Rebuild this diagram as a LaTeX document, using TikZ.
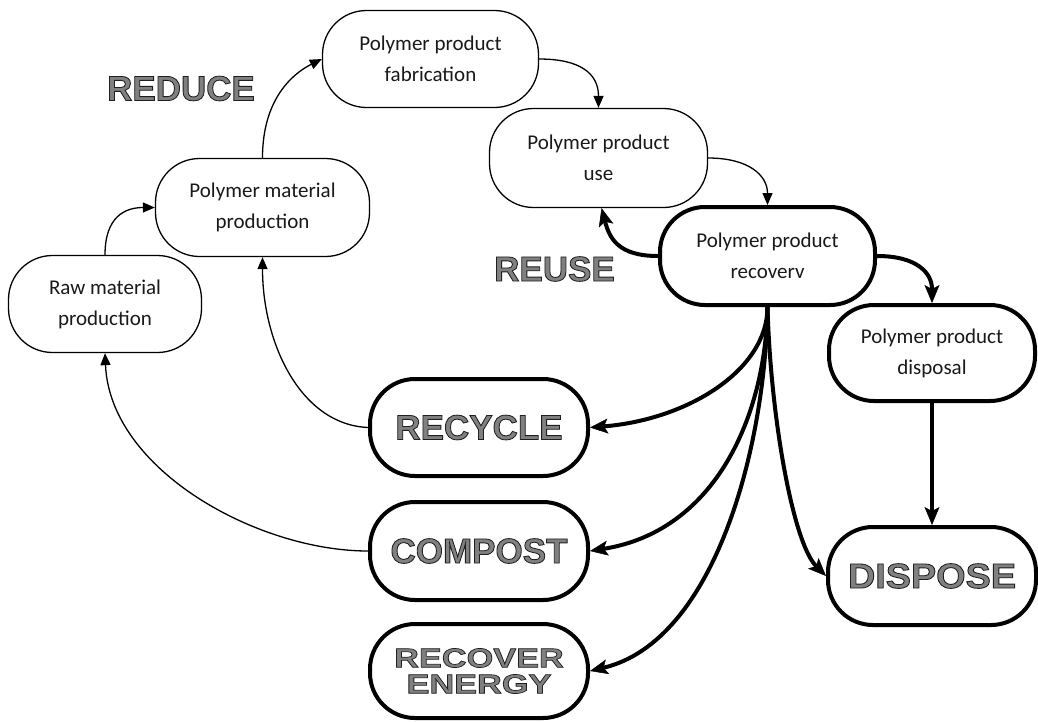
\documentclass[tikz,border=0pt]{standalone}
\usepackage{fontspec}
\usepackage{graphicx}
\setmainfont{Carlito}
\newfontface\capsfont[FakeBold=2.4]{Liberation Sans Bold}
\usetikzlibrary{arrows.meta}
% dark stroke around the filled capital letters
\newcommand\darkrim{\special{pdf:literal direct 0.12 G}}
\newcommand\capstext[1]{\darkrim#1}
\tikzset{
  stagebox/.style={draw, line width=1.3pt, rounded corners=44pt, inner sep=0pt,
    align=center, text=black!90, font=\fontsize{21}{31}\selectfont},
  routebox/.style={draw, line width=4pt, rounded corners=45pt, inner sep=0pt,
    align=center},
  capslabel/.style={text=black!50, font=\capsfont\fontsize{35}{35}\selectfont},
  thinarrow/.style={line width=1.3pt, -{Triangle[length=12pt,width=10pt]}},
  thickarrow/.style={line width=4pt, -{Stealth[length=18pt,width=15pt,inset=4pt,line width=0.5pt]}}
}
\begin{document}
\begin{tikzpicture}[x=1pt,y=-1pt]
\useasboundingbox (0,0) rectangle (1038,721);

% life-cycle stages
\node[stagebox, minimum width=193pt, minimum height=97pt] (raw) at (105,304) {Raw material\\production};
\node[stagebox, minimum width=214pt, minimum height=98pt] (pmp) at (262.5,207.5) {Polymer material\\production};
\node[stagebox, minimum width=216pt, minimum height=97pt] (fab) at (430.5,59) {Polymer product\\fabrication};
\node[stagebox, minimum width=218pt, minimum height=99pt] (use) at (598.5,158) {Polymer product\\use};
\node[stagebox, routebox, minimum width=215pt, minimum height=98pt] (rec) at (767.5,256) {Polymer product\\recoverv};
\node[stagebox, routebox, minimum width=206pt, minimum height=96pt] (disp) at (932,353) {Polymer product\\disposal};

% end-of-life routes
\node[routebox, capslabel, minimum width=218pt, minimum height=97pt] (recycle) at (479,427.5) {\capstext{RECYCLE}};
\node[routebox, capslabel, minimum width=218pt, minimum height=98pt] (compost) at (479,551) {\capstext{COMPOST}};
\node[routebox, capslabel, minimum width=218pt, minimum height=94pt, font=\capsfont\fontsize{27}{26}\selectfont] (energy) at (479,671)
  {\capstext{\scalebox{1.27}[1]{RECOVER}}\\\capstext{\scalebox{1.27}[1]{ENERGY}}};
\node[routebox, capslabel, minimum width=208pt, minimum height=98pt] (dispose) at (932,576) {\capstext{\scalebox{1.08}[1]{DISPOSE}}};

% free labels
\node[capslabel] (reduce) at (181,88.5) {\capstext{REDUCE}};
\node[capslabel] (reuse) at (554.5,269) {\capstext{REUSE}};

% forward chain
\draw[thinarrow] (raw.north) .. controls +(0,-38) and +(-30,0) .. (pmp.west);
\draw[thinarrow] (pmp.north) .. controls +(0,-60) and +(-28,14) .. (fab.west);
\draw[thinarrow] (fab.east) .. controls +(40,0) and +(0,-35) .. (use.north);
\draw[thinarrow] (use.east) .. controls +(40,0) and +(0,-30) .. (rec.north);
\draw[thickarrow] (rec.west) .. controls +(-40,0) and +(8,30) .. ([xshift=3pt]use.south);
\draw[thickarrow] (rec.east) .. controls +(40,0) and +(0,-30) .. (disp.north);
\draw[thickarrow] (disp.south) -- (dispose.north);

% fan of routes out of recovery
\draw[thickarrow] (rec.south) .. controls +(0,63) and +(98,-8) .. (recycle.east);
\draw[thickarrow] (rec.south) .. controls +(-2,110) and +(125,-20) .. (compost.east);
\draw[thickarrow] (rec.south) .. controls +(-2,140) and +(125,-30) .. (energy.east);
\draw[thickarrow] (rec.south) .. controls +(3,110) and +(-33,-33) .. (dispose.west);

% material returned upstream
\draw[thinarrow] (recycle.west) .. controls +(-68,-3) and +(0,85) .. (pmp.south);
\draw[thinarrow] (compost.west) .. controls +(-110,0) and +(5,117) .. (raw.south);
\end{tikzpicture}
\end{document}
